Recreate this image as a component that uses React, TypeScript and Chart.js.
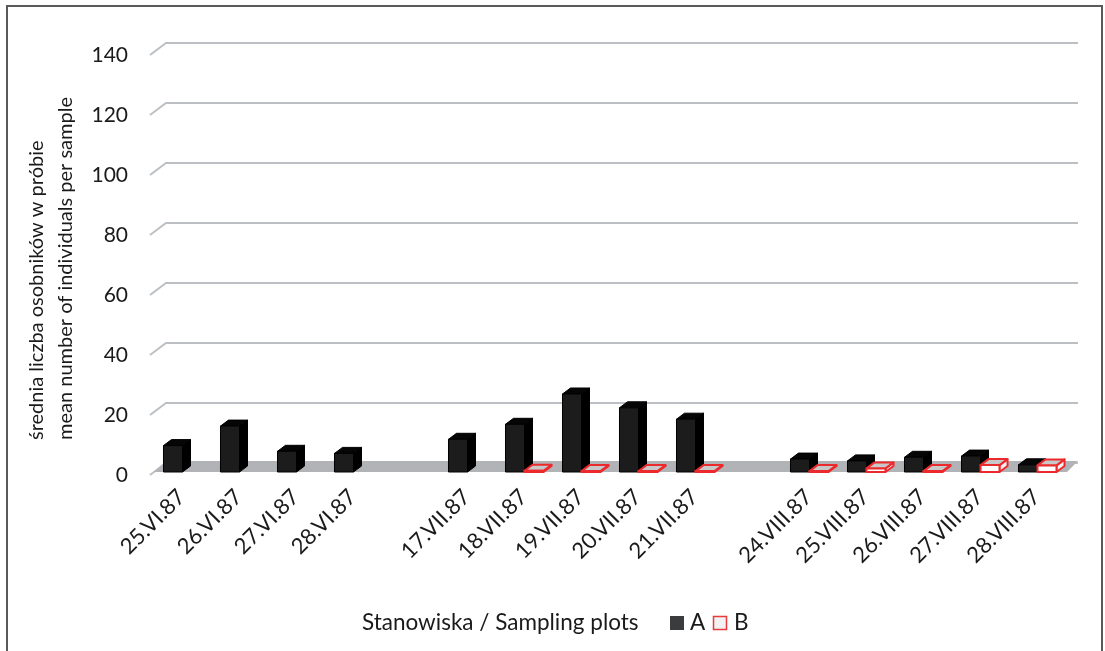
import React, { useEffect, useRef } from 'react';
import { Chart, registerables } from 'chart.js';

Chart.register(...registerables);

// ---- data ----
const categories = [
  '25.VI.87', '26.VI.87', '27.VI.87', '28.VI.87', '',
  '17.VII.87', '18.VII.87', '19.VII.87', '20.VII.87', '21.VII.87', '',
  '24.VIII.87', '25.VIII.87', '26.VIII.87', '27.VIII.87', '28.VIII.87',
];
const seriesA = [8.8, 15.3, 6.9, 6.2, null, 10.9, 15.9, 26.0, 21.4, 17.6, null, 4.3, 3.7, 4.9, 5.3, 2.4];
const seriesB = [0, 0, 0, 0, null, 0, 0.4, 0.3, 0.3, 0.3, null, 0.3, 1.2, 0.3, 2.3, 2.2];
const seriesNames = ['A', 'B'];
const yTicks = [0, 20, 40, 60, 80, 100, 120, 140];
const yTitleLines = ['średnia liczba osobników w próbie', 'mean number of individuals per sample'];
const legendTitle = 'Stanowiska / Sampling plots';

const FONT_FAMILY = 'Lato, "Open Sans", sans-serif';
const TEXT_COLOR = '#1a1a1a';

const barStyles = [
  { front: '#1c1c1c', top: '#060606', side: '#000000', stroke: '#000000', lw: 1 },
  { front: '#ffffff', top: '#c8c8c8', side: '#f2f2f2', stroke: '#ec2a2d', lw: 2 },
];

function poly(ctx: CanvasRenderingContext2D, pts: number[][], fill: string, stroke: string, lw: number) {
  ctx.beginPath();
  ctx.moveTo(pts[0][0], pts[0][1]);
  for (let i = 1; i < pts.length; i++) ctx.lineTo(pts[i][0], pts[i][1]);
  ctx.closePath();
  ctx.fillStyle = fill;
  ctx.fill();
  ctx.lineWidth = lw;
  ctx.strokeStyle = stroke;
  ctx.stroke();
}

const threeDPlugin = {
  id: 'threeD',
  beforeDraw(chart: any) {
    const ctx = chart.ctx as CanvasRenderingContext2D;
    ctx.save();
    ctx.fillStyle = '#ffffff';
    ctx.fillRect(0, 0, chart.width, chart.height);
    ctx.strokeStyle = '#5a5a5a';
    ctx.lineWidth = 2;
    ctx.strokeRect(7, 6, 1095, 800);
    ctx.restore();
  },
  beforeDatasetsDraw(chart: any) {
    const ctx = chart.ctx as CanvasRenderingContext2D;
    const ca = chart.chartArea;
    const ys = chart.scales.y;
    ctx.save();
    ctx.strokeStyle = '#bcc0c4';
    ctx.lineWidth = 2;
    for (const v of yTicks) {
      const py = ys.getPixelForValue(v);
      ctx.beginPath();
      ctx.moveTo(ca.left, py);
      ctx.lineTo(ca.left + 16, py - 12);
      ctx.lineTo(ca.right + 16, py - 12);
      ctx.stroke();
    }
    const b = ys.getPixelForValue(0);
    ctx.fillStyle = '#b1b3b6';
    ctx.beginPath();
    ctx.moveTo(ca.left + 4, b - 3);
    ctx.lineTo(ca.left + 16, b - 14);
    ctx.lineTo(ca.right + 16, b - 14);
    ctx.lineTo(ca.right + 5, b - 3);
    ctx.closePath();
    ctx.fill();
    ctx.restore();
  },
  afterDatasetsDraw(chart: any) {
    const ctx = chart.ctx as CanvasRenderingContext2D;
    ctx.save();
    ctx.lineJoin = 'round';
    const dx = 8;
    const dy = -6;
    for (let i = 0; i < categories.length; i++) {
      for (let d = 0; d < chart.data.datasets.length; d++) {
        const v = chart.data.datasets[d].data[i];
        if (v == null || v <= 0) continue;
        const el = chart.getDatasetMeta(d).data[i];
        if (!el) continue;
        const p = el.getProps(['x', 'y', 'base', 'width'], true);
        const s = barStyles[d];
        const x0 = p.x - p.width / 2 + 4;
        const x1 = p.x + p.width / 2 + 4;
        const t = p.y - 3;
        const bb = p.base - 3;
        poly(ctx, [[x1, t], [x1 + dx, t + dy], [x1 + dx, bb + dy], [x1, bb]], s.side, s.stroke, s.lw);
        poly(ctx, [[x0, t], [x1, t], [x1 + dx, t + dy], [x0 + dx, t + dy]], s.top, s.stroke, s.lw);
        poly(ctx, [[x0, t], [x1, t], [x1, bb], [x0, bb]], s.front, s.stroke, s.lw);
      }
    }
    ctx.restore();
  },
  afterDraw(chart: any) {
    const ctx = chart.ctx as CanvasRenderingContext2D;
    ctx.save();
    ctx.fillStyle = TEXT_COLOR;
    ctx.font = `20px ${FONT_FAMILY}`;
    ctx.textBaseline = 'middle';
    ctx.textAlign = 'left';
    // y axis title (two left-aligned rotated lines)
    const titleX = [37, 66];
    yTitleLines.forEach((line, i) => {
      ctx.save();
      ctx.translate(titleX[i], 440);
      ctx.rotate(-Math.PI / 2);
      ctx.fillText(line, 0, 0);
      ctx.restore();
    });
    // legend
    const ly = 623;
    ctx.font = `22.5px ${FONT_FAMILY}`;
    ctx.fillText(legendTitle, 362, ly);
    ctx.fillStyle = '#3a3c3e';
    ctx.fillRect(670, ly - 7, 14, 14);
    ctx.fillStyle = TEXT_COLOR;
    ctx.fillText(seriesNames[0], 690, ly);
    ctx.fillStyle = '#f2f2f2';
    ctx.fillRect(713.5, ly - 6.5, 13, 13);
    ctx.strokeStyle = '#e8393b';
    ctx.lineWidth = 1.5;
    ctx.strokeRect(713.5, ly - 6.5, 13, 13);
    ctx.fillStyle = TEXT_COLOR;
    ctx.fillText(seriesNames[1], 734, ly);
    ctx.restore();
  },
};

export default function App() {
  const canvasRef = useRef<HTMLCanvasElement | null>(null);

  useEffect(() => {
    if (!canvasRef.current) return;
    const chart = new Chart(canvasRef.current, {
      type: 'bar',
      data: {
        labels: categories,
        datasets: [
          {
            label: seriesNames[0],
            data: seriesA,
            backgroundColor: 'rgba(0,0,0,0)',
            borderWidth: 0,
            categoryPercentage: 0.667,
            barPercentage: 1,
          },
          {
            label: seriesNames[1],
            data: seriesB,
            backgroundColor: 'rgba(0,0,0,0)',
            borderWidth: 0,
            categoryPercentage: 0.667,
            barPercentage: 1,
          },
        ],
      },
      options: {
        responsive: false,
        animation: false,
        devicePixelRatio: 1,
        layout: { padding: { left: 0, right: 43, top: 55, bottom: 0 } },
        plugins: {
          legend: { display: false },
          tooltip: { enabled: false },
          title: { display: false },
        },
        scales: {
          x: {
            grid: { display: false, drawTicks: false },
            border: { display: false },
            ticks: {
              autoSkip: false,
              minRotation: 45,
              maxRotation: 45,
              padding: 9,
              labelOffset: 3,
              color: TEXT_COLOR,
              font: { family: FONT_FAMILY, size: 22 },
            },
            afterFit: (scale: any) => {
              scale.height = 176;
            },
          },
          y: {
            min: 0,
            max: 140,
            grid: { display: false, drawTicks: false },
            border: { display: false },
            ticks: {
              stepSize: 20,
              padding: 22,
              color: TEXT_COLOR,
              font: { family: FONT_FAMILY, size: 21 },
            },
            afterFit: (scale: any) => {
              scale.width = 150;
            },
          },
        },
      },
      plugins: [threeDPlugin],
    });
    return () => chart.destroy();
  }, []);

  return (
    <div style={{ position: 'absolute', left: 0, top: 0, width: 1105, height: 651 }}>
      <canvas ref={canvasRef} width={1105} height={651} style={{ display: 'block' }} />
    </div>
  );
}
